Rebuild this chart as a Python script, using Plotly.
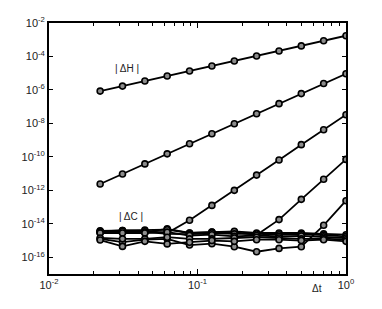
import plotly.graph_objects as go

# Time steps
dt = [0.0221, 0.03125, 0.0442, 0.0625, 0.0884, 0.125, 0.177, 0.25, 0.354, 0.5, 0.707, 1.0]

# |ΔH| errors (log10 values)
h2_log = [-6.07, -5.77, -5.47, -5.17, -4.87, -4.57, -4.27, -3.97, -3.67, -3.37, -3.06, -2.76]
h4_log = [-11.62, -11.02, -10.42, -9.82, -9.22, -8.62, -8.02, -7.42, -6.82, -6.22, -5.62, -5.03]
h6_log = [-14.45, -14.40, -14.42, -14.55, -13.79, -12.90, -12.00, -11.09, -10.19, -9.27, -8.38, -7.48]
h8_log = [-14.50, -14.48, -14.50, -14.30, -14.55, -14.50, -14.50, -14.67, -13.75, -12.54, -11.34, -10.15]
h10_log = [-14.90, -15.10, -14.95, -14.90, -15.27, -15.19, -15.37, -15.67, -15.47, -15.37, -14.09, -12.62]

# |ΔC| errors
c1_log = [-14.42, -14.40, -14.38, -14.35, -14.55, -14.50, -14.45, -14.55, -14.55, -14.55, -14.60, -14.65]
c2_log = [-14.50, -14.45, -14.48, -14.60, -14.62, -14.55, -14.60, -14.60, -14.65, -14.62, -14.68, -14.75]
c3_log = [-14.55, -14.55, -14.55, -14.50, -14.70, -14.65, -14.75, -14.70, -14.75, -14.72, -14.78, -14.85]
c4_log = [-14.85, -14.90, -14.90, -14.80, -14.90, -14.90, -14.85, -14.80, -14.85, -14.90, -14.88, -14.95]
c5_log = [-14.97, -15.35, -15.05, -15.20, -15.10, -15.00, -15.05, -14.95, -14.95, -15.00, -14.95, -15.05]

series = [h2_log, h4_log, h6_log, h8_log, h10_log, c1_log, c2_log, c3_log, c4_log, c5_log]

y_tickvals = [1e-2, 1e-4, 1e-6, 1e-8, 1e-10, 1e-12, 1e-14, 1e-16]
y_ticktext = ["10<sup>-2</sup>", "10<sup>-4</sup>", "10<sup>-6</sup>", "10<sup>-8</sup>",
              "10<sup>-10</sup>", "10<sup>-12</sup>", "10<sup>-14</sup>", "10<sup>-16</sup>"]
x_tickvals = [0.01, 0.1, 1.0]
x_ticktext = ["10<sup>-2</sup>", "10<sup>-1</sup>", "10<sup>0</sup>"]

fig = go.Figure()
for s in series:
    fig.add_trace(go.Scatter(
        x=dt, y=[10 ** v for v in s], mode="lines+markers",
        line=dict(color="black", width=1.8),
        marker=dict(symbol="circle", size=6, color="#8c8c8c",
                    line=dict(color="black", width=1.6)),
        showlegend=False))

minor_x = [m * 10 ** e for e in (-2, -1) for m in range(2, 10)]

font = dict(family="Liberation Sans, Arial, sans-serif", size=11, color="#222222")

fig.update_layout(
    width=382, height=309,
    margin=dict(l=49, r=36, t=23, b=35),
    paper_bgcolor="white", plot_bgcolor="white",
    font=font,
    xaxis=dict(type="log", range=[-2, 0], showgrid=False, zeroline=False,
               showline=True, linecolor="black", linewidth=1.8, mirror="ticks",
               ticks="inside", ticklen=5, tickcolor="black", tickwidth=1,
               tickvals=x_tickvals, ticktext=x_ticktext,
               minor=dict(ticks="inside", ticklen=3, tickcolor="black", tickvals=minor_x, showgrid=False)),
    yaxis=dict(type="log", range=[-17, -2], showgrid=False, zeroline=False,
               showline=True, linecolor="black", linewidth=1.8, mirror="ticks",
               ticks="inside", ticklen=4, tickcolor="black", tickwidth=1,
               tickvals=y_tickvals, ticktext=y_ticktext),
)

fig.add_annotation(x=-1.477, y=-4.71, xref="x", yref="y", text="| ΔH |",
                   showarrow=False, font=dict(family=font["family"], size=10, color="#222222"))
fig.add_annotation(x=-1.448, y=-13.58, xref="x", yref="y", text="| ΔC |",
                   showarrow=False, font=dict(family=font["family"], size=10, color="#222222"))
fig.add_annotation(x=-0.197, y=-0.056, xref="x", yref="paper", text="Δt",
                   showarrow=False, yanchor="middle", font=dict(family=font["family"], size=10, color="#222222"))

fig.write_html("out.html", config={"displayModeBar": False},
               post_script="document.body.style.margin='0px';")
